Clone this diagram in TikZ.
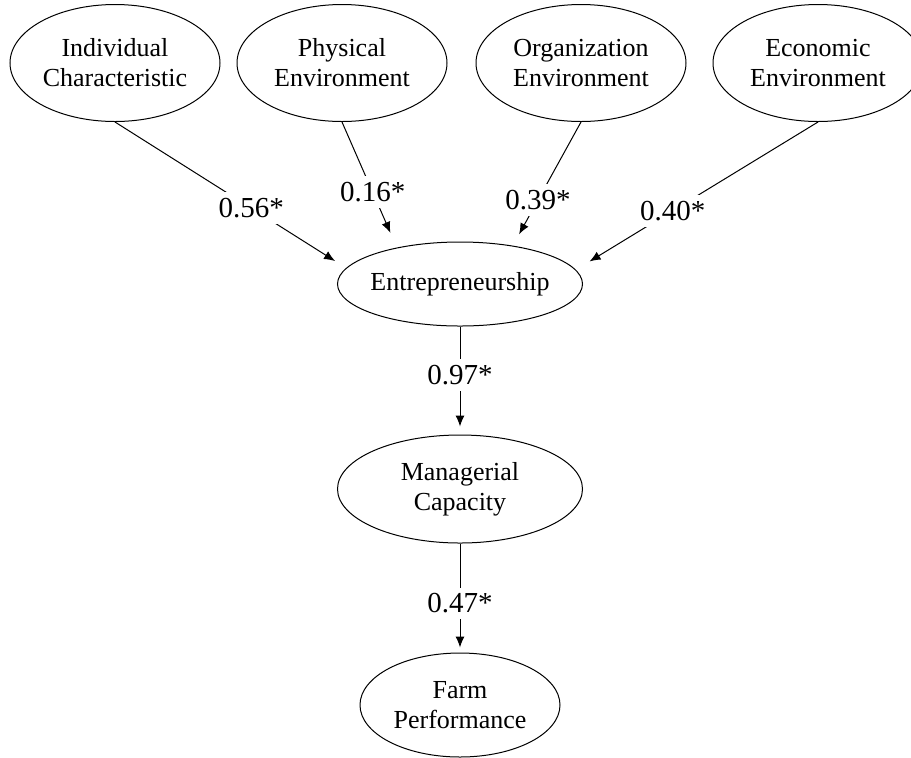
\documentclass[tikz,border=0pt]{standalone}
\usepackage{fontspec}
\setmainfont{Liberation Serif}
\usetikzlibrary{arrows.meta,shapes.geometric}

\begin{document}
\begin{tikzpicture}[x=0.5pt,y=-0.5pt,
  latent/.style={draw,ellipse,line width=0.5pt,inner sep=0pt,align=center,font=\fontsize{13}{15}\selectfont},
  effect/.style={-{Latex[length=5.5pt,width=4.5pt]},line width=0.5pt},
  coef/.style={fill=white,inner sep=3pt,font=\fontsize{14.5}{17}\selectfont}]
\useasboundingbox (0,0) rectangle (911,757);

% Factors on top
\node[latent,minimum width=105pt,minimum height=58.5pt] (indiv) at (115,63) {Individual\\Characteristic};
\node[latent,minimum width=105pt,minimum height=58.5pt] (phys) at (342,63) {Physical\\Environment};
\node[latent,minimum width=105pt,minimum height=58.5pt] (org) at (581,63) {Organization\\Environment};
\node[latent,minimum width=105pt,minimum height=58.5pt] (econ) at (818,63) {Economic\\Environment};

% Chain down the middle
\node[latent,inner xsep=-3pt,minimum width=122.5pt,minimum height=42pt] (entre) at (460,284) {Entrepreneurship};
\node[latent,minimum width=122.5pt,minimum height=54pt] (manag) at (460,489) {Managerial\\Capacity};
\node[latent,minimum width=100pt,minimum height=52pt] (farm) at (460,705) {Farm\\Performance};

% Path coefficients
\draw[effect,shorten >=6.5pt] (indiv.south) -- node[coef,pos=0.59] {0.56*} (entre.172);
\draw[effect,shorten >=8pt] (phys.south) -- node[coef,pos=0.56] {0.16*} (entre.150);
\draw[effect,shorten >=6.5pt] (org.south) -- node[coef,pos=0.63] {0.39*} (entre.36);
\draw[effect,shorten >=8pt] (econ.south) -- node[coef,pos=0.6] {0.40*} (entre.7);
\draw[effect,shorten >=4pt] (entre.south) -- node[coef,pos=0.45] {0.97*} (manag.north);
\draw[effect,shorten >=2.5pt] (manag.south) -- node[coef,pos=0.55] {0.47*} (farm.north);
\end{tikzpicture}
\end{document}
